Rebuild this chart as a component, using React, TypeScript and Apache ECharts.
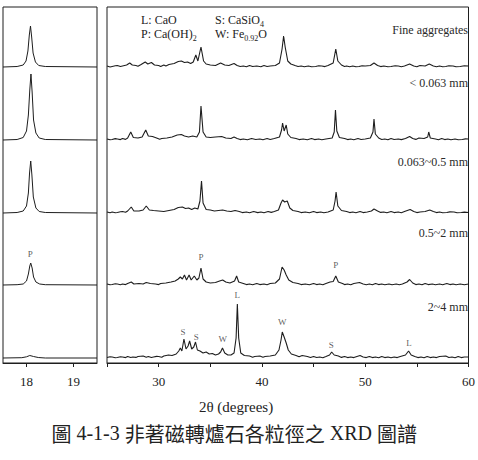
import React, { useEffect, useRef } from "react";
import * as echarts from "echarts";

// ---------- data ----------
const sampleNames = ["Fine aggregates", "< 0.063 mm", "0.063~0.5 mm", "0.5~2 mm", "2~4 mm"];
// vertical stacking offsets of the patterns (arbitrary intensity units)
const stackOffsets = [296, 223, 150, 78, 5];

const leftTicks = [18, 19];
const rightTicks = [30, 40, 50, 60];

// Ca(OH)2 (001) reflection, left panel: [2θ, intensity]
const leftFine = [[17.5, 0], [17.8, 0.5], [17.93, 2], [17.99, 6], [18.03, 16], [18.06, 32], [18.085, 41], [18.11, 30], [18.14, 14], [18.19, 5], [18.26, 1.5], [18.4, 0.5], [19.5, 0]];
const leftLt0063 = [[17.5, 0], [17.8, 0.5], [17.93, 2.5], [18.0, 9], [18.04, 25], [18.07, 50], [18.095, 66], [18.12, 48], [18.15, 20], [18.2, 7], [18.27, 2], [18.4, 0.5], [19.5, 0]];
const left0063to05 = [[17.5, 0], [17.8, 0.5], [17.93, 2], [18.0, 7], [18.04, 20], [18.065, 40], [18.09, 52], [18.115, 38], [18.145, 16], [18.2, 5], [18.27, 1.5], [18.4, 0.5], [19.5, 0]];
const left05to2 = [[17.5, 0], [17.8, 0.3], [17.93, 1], [18.0, 4], [18.04, 11], [18.07, 19], [18.09, 22], [18.12, 17], [18.15, 8], [18.2, 3], [18.28, 1], [18.4, 0.3], [19.5, 0]];
const left2to4 = [[17.5, 0], [17.9, 0.3], [18.0, 1.2], [18.07, 2.5], [18.15, 1.5], [18.25, 0.5], [18.4, 0], [19.5, 0]];

// main panel 25–60°: [2θ, intensity]
const fineAggregates = [[25.0, 1], [25.3, 0], [25.5, 0.5], [25.8, 1.2], [26.0, 1.5], [26.3, 0.5], [26.5, 1], [26.9, 2], [27.2, 4], [27.45, 2], [27.8, 1.5], [28.0, 0.8], [28.3, 2.5], [28.7, 5], [28.95, 3], [29.3, 4.5], [29.6, 2], [30.0, 1.5], [30.2, 0.5], [30.5, 2], [30.7, 1], [31.0, 2.5], [31.5, 3.5], [31.9, 5.5], [32.2, 6], [32.5, 4.5], [32.8, 5], [33.1, 3.5], [33.35, 5], [33.6, 12], [33.8, 6], [34.1, 20], [34.35, 6], [34.6, 3], [35.0, 2], [35.5, 1.5], [36.0, 4], [36.4, 2], [36.8, 1.5], [37.3, 3.5], [37.6, 1.5], [37.9, 0.5], [38.2, 1], [38.5, 0.3], [38.8, 1.5], [39.1, 0.5], [39.5, 1], [39.9, 0.3], [40.2, 1.5], [40.5, 0.5], [40.8, 1], [41.3, 1.5], [41.7, 4], [41.95, 18], [42.1, 31], [42.25, 20], [42.5, 6], [42.8, 3], [43.2, 1.5], [43.5, 0.5], [43.8, 1], [44.1, 0.3], [44.5, 1], [44.8, 0.2], [45.2, 0.5], [45.5, 1.2], [45.8, 1], [46.1, 0.4], [46.4, 1.5], [46.9, 4], [47.15, 18], [47.35, 6], [47.7, 2], [48.0, 0.5], [48.2, 1], [48.5, 0.3], [48.8, 1], [49.1, 0.2], [49.4, 0.5], [49.7, 1.2], [50.0, 1], [50.5, 1.5], [50.85, 4], [51.2, 1.5], [51.5, 0.4], [51.8, 1], [52.2, 0.3], [52.5, 0.5], [52.9, 1.2], [53.2, 1], [53.5, 0.3], [53.8, 1], [54.3, 3], [54.7, 1], [55.0, 0.3], [55.3, 1.5], [55.8, 1], [56.2, 3], [56.6, 1], [56.9, 0.3], [57.2, 1], [57.5, 0.2], [57.8, 0.5], [58.1, 1.2], [58.5, 1], [58.8, 0.2], [59.2, 0.5], [59.6, 1.2], [60.0, 1]];
const lt0063 = [[25, 1], [25.3, 0.2], [25.5, 0.5], [25.8, 1.4], [26, 1], [26.3, 0.4], [26.5, 1.5], [26.8, 0.6], [27.0, 2], [27.3, 8], [27.55, 2.5], [28.0, 2], [28.4, 3], [28.75, 10], [29.0, 4], [29.4, 3.5], [29.8, 2], [30.1, 0.8], [30.3, 1.5], [30.8, 2], [31.3, 3], [31.8, 5], [32.2, 5.5], [32.5, 4], [32.9, 3], [33.3, 4], [33.7, 3], [33.95, 8], [34.1, 34], [34.3, 8], [34.6, 3], [35.0, 2.5], [35.5, 3], [36.1, 3.5], [36.5, 2], [37.0, 1.5], [37.3, 3], [37.6, 1.5], [37.9, 0.4], [38.2, 1], [38.6, 0.3], [39, 1.5], [39.4, 0.5], [39.8, 1], [40.1, 0.3], [40.5, 1.5], [40.8, 0.5], [41.2, 1.5], [41.7, 3], [41.9, 10], [42.0, 17], [42.15, 9], [42.35, 15], [42.5, 6], [42.8, 2.5], [43.3, 1.5], [43.6, 0.4], [44.0, 1], [44.4, 0.3], [44.8, 1.5], [45.1, 0.4], [45.5, 1], [45.8, 0.2], [46.2, 1], [46.8, 2], [47.0, 8], [47.12, 30], [47.25, 9], [47.5, 2.5], [48.0, 1.5], [48.3, 0.4], [48.6, 1], [48.9, 0.3], [49.3, 1.5], [49.6, 0.5], [50.0, 1], [50.5, 2], [50.75, 8], [50.85, 21], [50.98, 6], [51.3, 2], [51.6, 0.5], [51.9, 1], [52.2, 0.3], [52.5, 1.5], [52.8, 0.5], [53.2, 1], [53.5, 0.4], [53.9, 1.5], [54.3, 3.5], [54.6, 1.5], [54.9, 0.6], [55.2, 2], [55.7, 1.5], [56.05, 3], [56.15, 8], [56.3, 2], [56.8, 1], [57.1, 0.3], [57.4, 1.5], [57.7, 0.4], [58.0, 1], [58.3, 0.2], [58.7, 1], [59.0, 0.3], [59.4, 0.5], [59.7, 1.1], [60, 1]];
const from0063to05 = [[25, 1], [25.3, 0.3], [25.5, 1], [25.8, 0.2], [26, 0.5], [26.3, 1.2], [26.5, 1.5], [26.8, 0.7], [27.0, 2], [27.35, 6], [27.6, 2], [28.1, 2], [28.5, 3], [28.8, 7], [29.1, 3], [29.5, 2.5], [30.0, 2], [30.5, 1.5], [31.0, 2.5], [31.5, 3.5], [31.9, 5.5], [32.3, 6], [32.6, 4.5], [32.9, 5], [33.2, 3.5], [33.5, 5], [33.8, 4], [34.0, 12], [34.15, 32], [34.3, 10], [34.6, 3.5], [35.0, 3], [35.4, 2], [35.8, 2.5], [36.2, 3], [36.6, 2], [37.0, 1.5], [37.4, 2.5], [37.8, 1.5], [38.1, 0.4], [38.5, 1], [38.8, 0.3], [39.2, 1.5], [39.6, 0.4], [39.9, 1], [40.2, 0.2], [40.6, 1.5], [40.9, 0.6], [41.2, 1.5], [41.6, 3], [41.85, 10], [42.0, 13], [42.2, 11], [42.45, 12], [42.7, 5], [43.0, 2.5], [43.5, 1.5], [43.8, 0.4], [44.2, 1], [44.6, 0.3], [45.0, 1.5], [45.3, 0.4], [45.7, 1], [46.0, 0.3], [46.4, 1], [46.9, 3], [47.08, 12], [47.18, 21], [47.35, 7], [47.7, 2.5], [48.2, 1.5], [48.5, 0.4], [48.8, 1], [49.1, 0.3], [49.5, 1.5], [49.8, 0.4], [50.2, 1], [50.6, 2], [50.85, 4], [51.2, 2], [51.5, 0.6], [51.8, 1], [52.1, 0.3], [52.5, 1.5], [52.8, 0.4], [53.2, 1], [53.5, 0.3], [53.8, 1.5], [54.35, 3.5], [54.7, 1.5], [55.0, 0.4], [55.3, 1], [55.8, 1.5], [56.25, 3], [56.6, 1.5], [56.9, 0.4], [57.2, 1], [57.5, 0.2], [57.9, 0.5], [58.2, 1.1], [58.6, 1], [58.9, 0.2], [59.3, 0.5], [59.6, 0.9], [60, 0.5]];
const from05to2 = [[25, 1], [25.3, 0.2], [25.5, 0.5], [25.8, 1.3], [26, 1], [26.3, 0.3], [26.5, 1], [26.8, 0.4], [27.0, 1.5], [27.35, 3], [27.6, 1], [28.1, 1.5], [28.5, 1], [28.8, 2.5], [29.2, 1.5], [29.7, 1], [30.0, 0.4], [30.2, 1.5], [30.7, 2], [31.2, 3], [31.6, 4], [31.9, 6], [32.1, 8], [32.3, 6], [32.5, 10], [32.7, 5], [32.95, 10], [33.15, 5], [33.45, 9], [33.7, 5], [33.9, 7], [34.1, 17], [34.3, 6], [34.6, 3], [35.0, 2], [35.5, 2.5], [35.9, 4], [36.2, 5], [36.5, 3], [36.9, 2], [37.35, 4], [37.55, 9], [37.75, 3], [38.2, 1.5], [38.5, 0.4], [38.8, 1], [39.1, 0.3], [39.5, 1.5], [39.8, 0.4], [40.2, 1], [40.5, 0.3], [40.8, 1.5], [41.3, 2], [41.7, 6], [41.95, 18], [42.15, 15], [42.35, 10], [42.6, 5], [43.0, 2.5], [43.5, 1.5], [43.8, 0.4], [44.2, 1], [44.6, 0.3], [45.0, 1.5], [45.3, 0.4], [45.6, 1], [45.9, 0.3], [46.2, 1.5], [46.6, 3], [46.9, 3.5], [47.15, 9], [47.4, 3], [47.8, 1.5], [48.0, 0.4], [48.3, 1], [48.6, 0.3], [48.9, 1.5], [49.45, 2.5], [49.8, 1], [50.1, 0.3], [50.4, 1], [50.7, 0.3], [51.0, 1.5], [51.3, 0.4], [51.6, 1], [51.9, 0.2], [52.3, 1], [52.6, 0.3], [53.0, 1], [53.3, 0.3], [53.6, 1], [54.05, 3], [54.3, 5.5], [54.6, 2], [54.9, 0.4], [55.2, 1], [55.5, 0.3], [55.8, 1.5], [56.1, 0.4], [56.5, 1], [56.8, 0.3], [57.2, 1], [57.5, 0.3], [57.9, 1.5], [58.2, 0.4], [58.5, 1], [58.8, 0.3], [59.2, 1], [59.6, 0.3], [60, 1]];
const from2to4 = [[25, 0.5], [25.3, 1.2], [25.5, 1], [25.8, 0.2], [26, 0.5], [26.3, 1.3], [26.5, 1], [26.8, 0.4], [27, 1.5], [27.3, 0.5], [27.5, 1], [27.8, 0.6], [28, 1.5], [28.5, 2], [28.8, 0.8], [29, 1.5], [29.3, 0.5], [29.5, 1], [29.8, 1.6], [30, 1.5], [30.3, 0.7], [30.5, 2], [30.95, 3], [31.3, 2.5], [31.7, 4], [31.95, 7], [32.1, 10], [32.25, 7], [32.45, 19], [32.65, 9], [32.85, 12], [33.0, 17], [33.2, 9], [33.4, 11], [33.57, 16], [33.75, 8], [34.0, 7], [34.3, 5], [34.6, 6], [34.9, 4], [35.2, 4.5], [35.5, 3], [35.8, 4], [36.0, 6], [36.18, 10], [36.4, 5], [36.7, 3], [37.0, 3], [37.3, 5], [37.5, 20], [37.62, 54], [37.75, 20], [37.95, 5], [38.3, 2.5], [38.8, 2], [39.1, 0.8], [39.3, 1.5], [39.8, 2], [40.1, 0.8], [40.3, 1.5], [40.8, 2], [41.3, 3], [41.65, 8], [41.85, 18], [41.97, 26], [42.15, 21], [42.35, 15], [42.55, 8], [42.85, 4], [43.3, 2.5], [43.6, 1.2], [43.9, 2.5], [44.4, 1.5], [44.7, 0.5], [45.0, 1.5], [45.3, 0.5], [45.6, 1], [45.9, 0.3], [46.2, 1.5], [46.55, 3], [46.75, 6], [47.0, 3], [47.4, 2], [47.7, 0.6], [48.0, 1.5], [48.3, 0.4], [48.6, 1], [48.9, 0.4], [49.2, 1.5], [49.5, 2.5], [49.8, 1], [50.1, 0.4], [50.4, 1.5], [50.7, 0.4], [51.0, 1], [51.3, 0.3], [51.6, 1.5], [51.9, 0.4], [52.2, 1], [52.5, 0.3], [52.8, 1], [53.1, 0.4], [53.4, 1.5], [53.9, 3], [54.2, 7], [54.45, 3], [54.8, 1.5], [55.1, 0.4], [55.4, 1], [55.7, 0.3], [56.0, 1.5], [56.3, 0.4], [56.6, 1], [56.9, 0.4], [57.2, 1.5], [57.8, 2], [58.1, 0.5], [58.4, 1], [58.7, 0.3], [59.0, 1.5], [59.3, 0.4], [59.6, 1], [60, 1]];

const leftPatterns = [leftFine, leftLt0063, left0063to05, left05to2, left2to4];
const rightPatterns = [fineAggregates, lt0063, from0063to05, from05to2, from2to4];

// phase letters: [panel, sample index, 2θ, intensity above baseline, letter]
const peakMarks: [number, number, number, number, string][] = [
  [0, 3, 18.08, 31, "P"],
  [1, 3, 34.1, 28, "P"],
  [1, 3, 47.15, 20, "P"],
  [1, 4, 32.36, 26, "S"],
  [1, 4, 33.65, 21, "S"],
  [1, 4, 36.2, 19, "W"],
  [1, 4, 37.62, 63, "L"],
  [1, 4, 41.97, 36, "W"],
  [1, 4, 46.7, 13, "S"],
  [1, 4, 54.24, 15, "L"],
];

const xAxisTitle = "2θ (degrees)";
// caption split into CJK / Latin runs: [text, isCJK]
const captionRuns: [string, boolean][] = [
  ["圖", true],
  [" 4-1-3 ", false],
  ["非著磁轉爐石各粒徑之", true],
  [" XRD ", false],
  ["圖譜", true],
];

// ---------- chart ----------
const serif = "Liberation Serif";
const cjk = "Noto Sans CJK TC";
const ink = "#1e1e1e";

export default function App() {
  const ref = useRef<HTMLDivElement>(null);

  useEffect(() => {
    if (!ref.current) return;
    const chart = echarts.init(ref.current, undefined, { renderer: "svg" });

    const lineSeries: any[] = [];
    leftPatterns.forEach((p, i) => {
      lineSeries.push({
        type: "line",
        name: sampleNames[i] + " (18°)",
        xAxisIndex: 0,
        yAxisIndex: 0,
        data: p.map(([x, y]) => [x, y + stackOffsets[i]]),
        showSymbol: false,
        lineStyle: { color: ink, width: 1 },
        silent: true,
      });
    });
    rightPatterns.forEach((p, i) => {
      lineSeries.push({
        type: "line",
        name: sampleNames[i],
        xAxisIndex: 1,
        yAxisIndex: 1,
        data: p.map(([x, y]) => [x, y + stackOffsets[i]]),
        showSymbol: false,
        lineStyle: { color: ink, width: 1.1 },
        silent: true,
      });
    });

    [0, 1].forEach((panel) => {
      lineSeries.push({
        type: "scatter",
        xAxisIndex: panel,
        yAxisIndex: panel,
        symbolSize: 0,
        silent: true,
        itemStyle: { color: "#333" },
        data: peakMarks
          .filter((m) => m[0] === panel)
          .map((m) => ({ name: m[4], value: [m[2], m[3] + stackOffsets[m[1]]] })),
        label: {
          show: true,
          position: [0, 0],
          align: "center",
          verticalAlign: "middle",
          formatter: "{b}",
          fontSize: 9,
          fontFamily: serif,
          color: "#333",
        },
      });
    });

    const axisCommon = {
      type: "value",
      axisLine: { show: true, onZero: false, lineStyle: { color: ink, width: 1 } },
      splitLine: { show: false },
    };

    const captionText = captionRuns
      .map(([t, isCjk]) => `{${isCjk ? "c" : "l"}|${t}}`)
      .join("");

    const option: any = {
      animation: false,
      backgroundColor: "#fff",
      grid: [
        { left: 3, top: 7, width: 94, height: 356, show: true, borderColor: ink, borderWidth: 1 },
        { left: 107, top: 7, width: 366, height: 356, show: true, borderColor: ink, borderWidth: 1 },
      ],
      xAxis: [
        {
          ...axisCommon,
          gridIndex: 0,
          min: 17.5,
          max: 19.5,
          axisTick: { show: true, customValues: leftTicks, length: 4, lineStyle: { color: ink } },
          axisLabel: { customValues: leftTicks, margin: 12, fontSize: 13, fontFamily: serif, color: "#222" },
        },
        {
          ...axisCommon,
          gridIndex: 1,
          min: 25,
          max: 60,
          interval: 5,
          axisTick: { show: true, length: 4, lineStyle: { color: ink } },
          axisLabel: { customValues: rightTicks, margin: 12, fontSize: 13, fontFamily: serif, color: "#222" },
        },
      ],
      yAxis: [
        { type: "value", gridIndex: 0, min: 0, max: 356, show: false, splitLine: { show: false } },
        { type: "value", gridIndex: 1, min: 0, max: 356, show: false, splitLine: { show: false } },
      ],
      series: lineSeries,
      graphic: [
        // phase key
        ...[
          { x: 141, y: 20, t: "{a|L: CaO}" },
          { x: 141, y: 34, t: "{a|P: Ca(OH)}{s|2}" },
          { x: 215, y: 20, t: "{a|S: CaSiO}{s|4}" },
          { x: 215, y: 34, t: "{a|W: Fe}{s|0.92}{a|O}" },
        ].map((k) => ({
          type: "text",
          x: k.x,
          y: k.y,
          silent: true,
          style: {
            text: k.t,
            verticalAlign: "middle",
            fill: "#222",
            rich: {
              a: { fontSize: 12, fontFamily: serif, lineHeight: 16, verticalAlign: "middle", fill: "#222" },
              s: { fontSize: 8, fontFamily: serif, lineHeight: 16, verticalAlign: "bottom", fill: "#222" },
            },
          },
        })),
        // sample labels
        ...sampleNames.map((n, i) => ({
          type: "text",
          x: 468,
          y: [30, 83, 162, 233, 307][i],
          silent: true,
          style: {
            text: n,
            align: "right",
            verticalAlign: "middle",
            fontSize: 12,
            fontFamily: serif,
            fill: "#2a2a2a",
          },
        })),
        {
          type: "text",
          x: 236,
          y: 407,
          silent: true,
          style: {
            text: xAxisTitle,
            align: "center",
            verticalAlign: "middle",
            fontSize: 15,
            fontFamily: serif,
            fill: "#222",
          },
        },
        {
          type: "text",
          x: 417,
          y: 433,
          silent: true,
          style: {
            text: captionText,
            align: "right",
            verticalAlign: "middle",
            fill: "#222",
            rich: {
              c: { fontSize: 20, fontFamily: cjk, fill: "#222", lineHeight: 26 },
              l: { fontSize: 20, fontFamily: serif, fill: "#222", lineHeight: 26 },
            },
          },
        },
      ],
    };

    chart.setOption(option);
    return () => chart.dispose();
  }, []);

  return (
    <div
      ref={ref}
      style={{ position: "fixed", left: 0, top: 0, width: 478, height: 460, background: "#fff" }}
    />
  );
}
